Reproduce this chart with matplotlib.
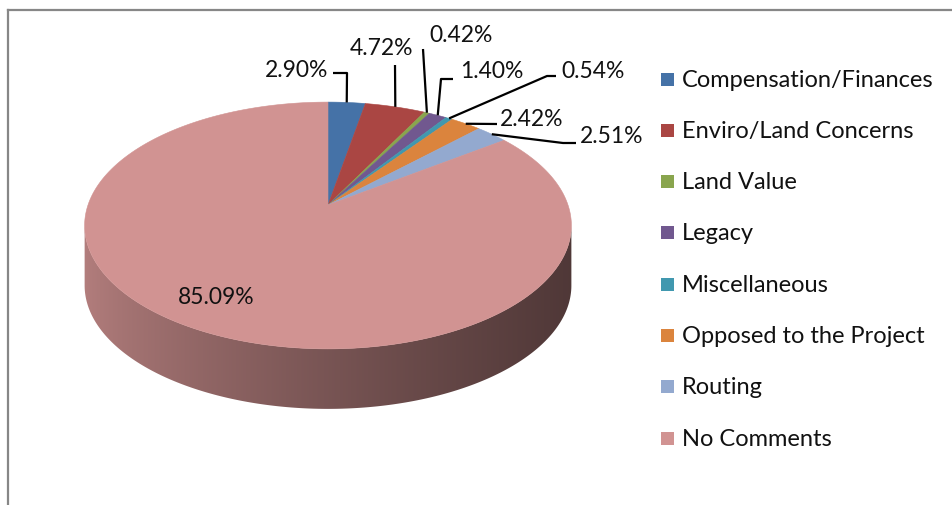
import numpy as np
import matplotlib.pyplot as plt
from matplotlib.patches import Polygon, Rectangle
from matplotlib.colors import to_rgb

plt.rcParams['font.family'] = ['Lato', 'DejaVu Sans']

# data
categories = ["Compensation/Finances", "Enviro/Land Concerns", "Land Value", "Legacy",
              "Miscellaneous", "Opposed to the Project", "Routing", "No Comments"]
shares = [2.90, 4.72, 0.42, 1.40, 0.54, 2.42, 2.51, 85.09]
colors = ["#4572A7", "#AA4643", "#89A54E", "#71588F",
          "#4198AF", "#DB843D", "#93A9CF", "#D19392"]

# label text centres and leader elbows (pixel layout)
label_pos = [(297, 70), (381, 48), (461, 35), (492, 71),
             (593, 71), (532, 119), (612, 136), (216, 298)]
leader_pts = [[(347, 74), (333, 74)],
              [(395, 66)],
              [(423, 50)],
              [(441, 80), (453, 80)],
              [(547, 77), (556, 77)],
              [(497, 125)],
              [(563, 144), (576, 144)],
              None]

# 3d pie geometry (pixels)
cx, cy = 328, 206
A, B, k = 240, 120, 0.166
depth = 60


def proj(theta):
    x = np.sin(theta)
    v = -np.cos(theta)
    w = 1 - k * v
    return cx + A * x / w, cy + B * v / w


fig = plt.figure(figsize=(9.52, 5.06), dpi=100)
ax = fig.add_axes([0, 0, 1, 1])

fracs = np.array(shares) / sum(shares)
edges = np.concatenate([[0], np.cumsum(fracs)]) * 2 * np.pi

# side wall (front part only), shaded left->right
t_lo = np.arccos(-k)
t_hi = 2 * np.pi - t_lo
xl = cx - A / np.sqrt(1 - k ** 2)
xr = cx + A / np.sqrt(1 - k ** 2)
tt = np.linspace(0, 1, 300)
shade = 0.86 - 0.48 * tt ** 0.75
for i in range(len(shares)):
    a0 = max(edges[i], t_lo)
    a1 = min(edges[i + 1], t_hi)
    if a1 <= a0:
        continue
    th = np.linspace(a0, a1, 300)
    px, py = proj(th)
    poly = list(zip(px, py)) + list(zip(px[::-1], py[::-1] + depth))
    patch = Polygon(poly, closed=True, facecolor='none', edgecolor='none')
    ax.add_patch(patch)
    base = np.array(to_rgb(colors[i]))
    grad = (shade[:, None] * base[None, :])[None, :, :]
    im = ax.imshow(grad, extent=(xl - 2, xr + 2, py.max() + depth + 2, py.min() - 2),
                   aspect='auto', interpolation='bilinear')
    im.set_clip_path(patch)

# top face
for i in range(len(shares)):
    th = np.linspace(edges[i], edges[i + 1], max(3, int(400 * fracs[i])))
    px, py = proj(th)
    pts = [(cx, cy)] + list(zip(px, py))
    ax.add_patch(Polygon(pts, closed=True, facecolor=colors[i],
                         edgecolor=colors[i], lw=0.4))

# labels and leader lines
for i, val in enumerate(shares):
    ax.text(label_pos[i][0], label_pos[i][1], f"{val:.2f}%", fontsize=16.5,
            ha='center', va='center', color='#111111')
    if leader_pts[i] is not None:
        mid = 0.5 * (edges[i] + edges[i + 1])
        rx, ry = proj(mid)
        xs = [rx] + [p[0] for p in leader_pts[i]]
        ys = [ry] + [p[1] for p in leader_pts[i]]
        ax.plot(xs, ys, color='black', lw=1.6, solid_capstyle='butt')

# legend
for i, name in enumerate(categories):
    yy = 80 + 51.3 * i
    ax.add_patch(Rectangle((661, yy - 6.5), 13, 13, facecolor=colors[i], edgecolor='none'))
    ax.text(682, yy, name, fontsize=17, ha='left', va='center', color='#111111')

# chart frame
ax.plot([8, 952], [11, 11], color='#878787', lw=1.6)
ax.plot([8, 8], [11, 506], color='#878787', lw=1.6)

ax.set_xlim(0, 952)
ax.set_ylim(506, 0)
ax.axis('off')

fig.savefig('out.png', dpi=100)
